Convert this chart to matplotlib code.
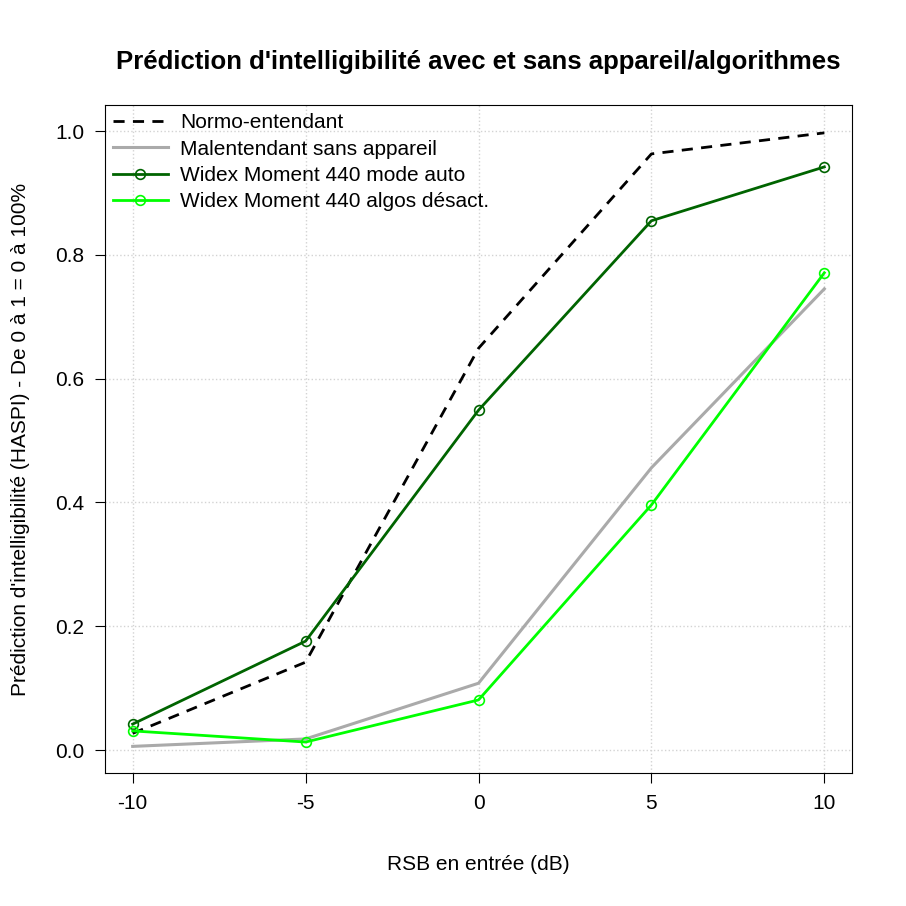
import matplotlib
matplotlib.use("Agg")
import matplotlib.pyplot as plt

plt.rcParams['font.family'] = ['Liberation Sans', 'DejaVu Sans']

rsb = [-10, -5, 0, 5, 10]
normo = [0.027, 0.142, 0.649, 0.963, 0.997]
malent = [0.006, 0.018, 0.108, 0.456, 0.745]
widex_auto = [0.042, 0.176, 0.549, 0.855, 0.942]
widex_off = [0.031, 0.013, 0.081, 0.396, 0.771]
labels = ["Normo-entendant", "Malentendant sans appareil",
          "Widex Moment 440 mode auto", "Widex Moment 440 algos désact."]

fig = plt.figure(figsize=(9.06, 9.06), dpi=100)
ax = fig.add_axes([105/906, 1-773/906, (852-105)/906, (773-105)/906])
ax.plot(rsb, normo, 'k--', lw=2, dashes=(4, 3), label=labels[0])
ax.plot(rsb, malent, color='#aaaaaa', lw=2.2, label=labels[1])
ax.plot(rsb, widex_auto, color='#006400', lw=2, marker='o', ms=7, mfc='none', mew=1.2, label=labels[2])
ax.plot(rsb, widex_off, color='#00ff00', lw=2, marker='o', ms=7, mfc='none', mew=1.2, label=labels[3])
ax.set_xlim(-10.8, 10.8)
ax.set_ylim(-0.037, 1.042)
ax.set_xticks(rsb)
ax.set_xticklabels(['-10', '-5', '0', '5', '10'])
ax.set_yticks([0, 0.2, 0.4, 0.6, 0.8, 1.0])
ax.set_yticklabels(['0.0', '0.2', '0.4', '0.6', '0.8', '1.0'])
ax.tick_params(labelsize=15, length=7, pad=8)
ax.grid(True, color='#d3d3d3', ls=':', lw=1)
ax.set_axisbelow(True)
ax.set_xlabel("RSB en entrée (dB)", fontsize=15, labelpad=30)
ax.set_ylabel("Prédiction d'intelligibilité (HASPI) - De 0 à 1 = 0 à 100%", fontsize=15, labelpad=18)
ax.set_title("Prédiction d'intelligibilité avec et sans appareil/algorithmes", fontsize=18.5, fontweight='bold', pad=26)
ax.legend(loc='upper left', frameon=False, fontsize=15, handlelength=2.6, handletextpad=0.6,
          borderaxespad=0.2, labelspacing=0.35, borderpad=0.2)
fig.savefig("out.png", dpi=100)
